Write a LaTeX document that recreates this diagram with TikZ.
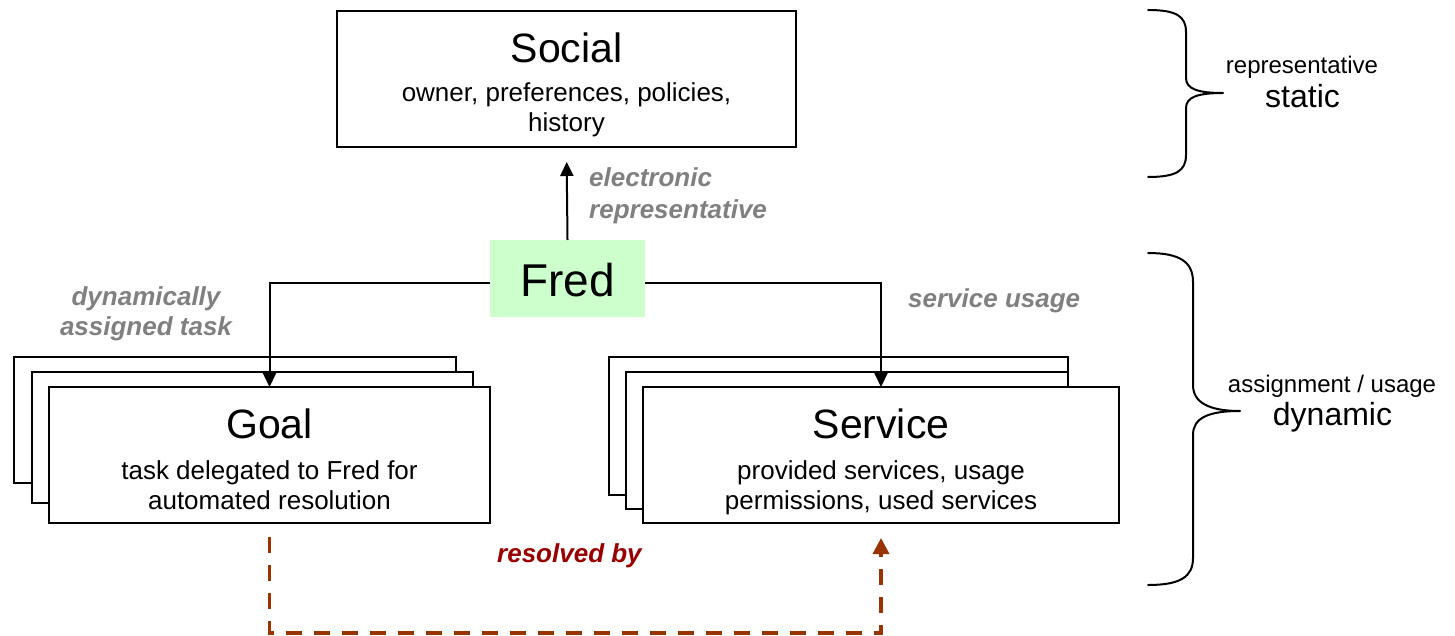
\documentclass[tikz,border=0pt]{standalone}
\usepackage{fontspec}
\setmainfont{Liberation Sans}
\usetikzlibrary{arrows.meta}
\definecolor{fredgreen}{HTML}{CCFFCC}
\definecolor{labelgray}{HTML}{808080}
\definecolor{resolvered}{HTML}{990000}
\definecolor{dashbrown}{HTML}{993300}
\tikzset{
  box/.style={draw=black, line width=2pt, fill=white, inner sep=0pt, outer sep=0pt, anchor=north west},
  titletext/.style={inner sep=0pt, anchor=base, font=\fontsize{41}{48}\selectfont},
  subtext/.style={inner sep=0pt, anchor=base, font=\fontsize{26}{31}\selectfont},
  linklabel/.style={inner sep=0pt, anchor=base, text=labelgray, font=\fontsize{26}{31}\selectfont\bfseries\itshape},
  sidesmall/.style={inner sep=0pt, anchor=base, font=\fontsize{24}{28}\selectfont},
  sidebig/.style={inner sep=0pt, anchor=base, font=\fontsize{32}{38}\selectfont},
  conn/.style={draw=black, line width=2pt, -{Triangle[length=14pt,width=13pt]}},
  resolve/.style={draw=dashbrown, line width=3.5pt, dash pattern=on 16pt off 12pt,
    -{Triangle[length=16pt,width=16pt]}},
  bracepath/.style={draw=black, line width=2pt, line cap=round, line join=round}
}
\begin{document}
\begin{tikzpicture}[x=1pt,y=-1pt]
\useasboundingbox (0,0) rectangle (1455,636);

% Social layer
\node[box, minimum width=459pt, minimum height=136pt] (social) at (337,11) {};
\node[titletext] (socialT) at (566.5,63) {Social};
\node[subtext] (socialA) at (566.5,102) {owner, preferences, policies,};
\node[subtext] (socialB) at (566.5,132) {history};

% Fred
\node[fill=fredgreen, minimum width=155pt, minimum height=77pt, inner sep=0pt, outer sep=0pt,
      anchor=north west] (fred) at (490,240) {};
\node[inner sep=0pt, anchor=base, font=\fontsize{46}{54}\selectfont] (fredT) at (567.5,296) {Fred};

% Goal stack
\node[box, minimum width=442pt, minimum height=126pt] (goalB1) at (14,357) {};
\node[box, minimum width=441pt, minimum height=131pt] (goalB2) at (32,372) {};
\node[box, minimum width=441pt, minimum height=136pt] (goal) at (49,387) {};
\node[titletext] (goalT) at (269.5,438) {Goal};
\node[subtext] (goalA) at (269.5,479) {task delegated to Fred for};
\node[subtext] (goalB) at (269.5,509) {automated resolution};

% Service stack
\node[box, minimum width=459pt, minimum height=138pt] (serviceB1) at (609,357) {};
\node[box, minimum width=442pt, minimum height=137pt] (serviceB2) at (626,372) {};
\node[box, minimum width=476pt, minimum height=136pt] (service) at (643,387) {};
\node[titletext] (serviceT) at (881,438) {Service};
\node[subtext] (serviceA) at (881,479) {provided services, usage};
\node[subtext] (serviceB) at (881,509) {permissions, used services};

% Connectors
\draw[conn, shorten >=15pt] (fred.north) -- (social.south);
\draw[conn] ([yshift=-4.5pt]fred.west) -| (goal.north);
\draw[conn] ([yshift=-4.5pt]fred.east) -| (service.north);
\coordinate (loop) at (0,633);
\draw[resolve] ([yshift=-14pt]goal.south) -- (goal.south |- loop)
  -- (service.south |- loop) -- ([yshift=-15pt]service.south);

% Connector labels
\node[linklabel, anchor=base west] (elecA) at (589,187) {electronic};
\node[linklabel, anchor=base west] (elecB) at (589,219) {representative};
\node[linklabel] (dynA) at (146,305) {dynamically};
\node[linklabel] (dynB) at (146,335) {assigned task};
\node[linklabel, anchor=base west] (usage) at (908,307) {service usage};
\node[linklabel, anchor=base west, text=resolvered] (resolved) at (497,562) {resolved by};

% Braces
\draw[bracepath] (1148,10) .. controls (1176,10) and (1186,16) .. (1186,32)
  -- (1186,78) .. controls (1186,89) and (1198,93) .. (1223,93)
  .. controls (1198,93) and (1186,97) .. (1186,108)
  -- (1186,155) .. controls (1186,171) and (1176,177) .. (1148,177);
\draw[bracepath] (1148,253) .. controls (1180,253) and (1193,262) .. (1193,282)
  -- (1193,385) .. controls (1193,402) and (1208,411) .. (1240,411)
  .. controls (1208,411) and (1193,418) .. (1193,435)
  -- (1193,558) .. controls (1193,577) and (1180,585) .. (1148,585);

% Side labels
\node[sidesmall] (repText) at (1302,74) {representative};
\node[sidebig] (staticText) at (1302.5,108) {static};
\node[sidesmall] (assignText) at (1332,392) {assignment / usage};
\node[sidebig] (dynamicText) at (1332.5,425) {dynamic};
\end{tikzpicture}
\end{document}
